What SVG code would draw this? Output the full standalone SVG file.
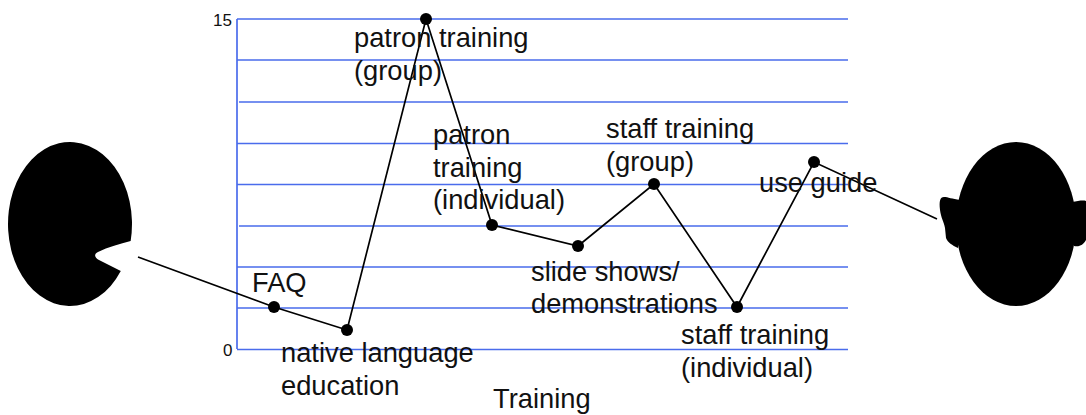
<svg xmlns="http://www.w3.org/2000/svg" width="1086" height="415" viewBox="0 0 1086 415">
<style>
.grid{stroke:#4a6cec;stroke-width:1.300;fill:none}
.conn{stroke:#000;stroke-width:1.700;fill:none}
.dot{fill:#000}
.head{fill:#000;stroke:none}
text{font-family:"Liberation Sans",Arial,sans-serif;fill:#111}
.l{font-size:27.300px}
.t{font-size:17px}
</style>
<rect width="1086" height="415" fill="#fff"/>
<g id="grid" class="grid">
<path d="M237 19V349" stroke-width="1.700"/>
<path d="M237 19H848M237 60H848M239 102H848M237 143.500H848M237 184.500H848M239 226H848M237 267H848M237 308H848M237 349.500H848"/>
</g>
<g id="head-left"><path class="head" d="M130.650 241A62 82 0 1 0 120.800 271L99 260C94 257 94 254 98 252C108 247 120 244 130.650 241Z"/></g>
<g id="head-right">
<ellipse class="head" cx="1016" cy="224" rx="60" ry="82"/>
<path class="head" d="M960 200C952 199 948 197 944 197C940 197 939 201 940 210C941 218 944 222 945 228L946 238C948 243 952 245 958 248Z"/>
<path class="head" d="M1072 202C1078 201 1083 200 1086 201V240C1083 245 1080 247 1074 246Z"/>
</g>
<g id="connectors" class="conn"><path d="M138 257L274 307L347 330L426 19L492 225L578 246L654 184L737 307L814 162L937 219"/></g>
<g id="n-faq"><circle class="dot" cx="274" cy="307" r="6"/><text class="l" x="252" y="292">FAQ</text></g>
<g id="n-native"><circle class="dot" cx="347" cy="330" r="6"/><text class="l" x="281" y="362">native language</text><text class="l" x="281" y="395">education</text></g>
<g id="n-patron-group"><circle class="dot" cx="426" cy="19" r="6"/><text class="l" x="354" y="47">patron training</text><text class="l" x="354" y="80">(group)</text></g>
<g id="n-patron-ind"><circle class="dot" cx="492" cy="225" r="6"/><text class="l" x="433" y="144">patron</text><text class="l" x="433" y="177">training</text><text class="l" x="433" y="209">(individual)</text></g>
<g id="n-slides"><circle class="dot" cx="578" cy="246" r="6"/><text class="l" x="531" y="281">slide shows/</text><text class="l" x="531" y="313">demonstrations</text></g>
<g id="n-staff-group"><circle class="dot" cx="654" cy="184" r="6"/><text class="l" x="606" y="138">staff training</text><text class="l" x="606" y="171">(group)</text></g>
<g id="n-staff-ind"><circle class="dot" cx="737" cy="307" r="6"/><text class="l" x="681" y="344">staff training</text><text class="l" x="681" y="377">(individual)</text></g>
<g id="n-guide"><circle class="dot" cx="814" cy="162" r="6"/><text class="l" x="759" y="192">use guide</text></g>
<text class="t" x="213" y="26">15</text>
<text class="t" x="223" y="356">0</text>
<text class="l" x="493" y="408">Training</text>
</svg>
